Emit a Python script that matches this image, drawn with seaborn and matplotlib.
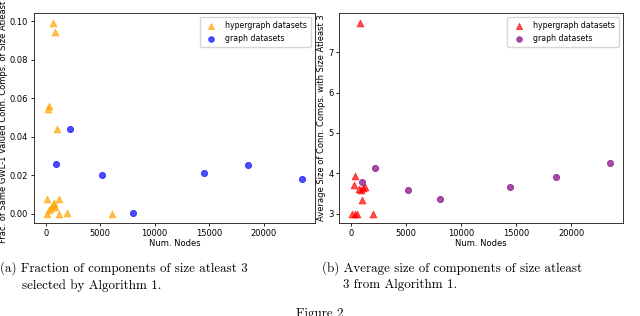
import numpy as np
import matplotlib
matplotlib.use("Agg")
import matplotlib.pyplot as plt
import seaborn as sns
import pandas as pd

# (a) fraction of same GWL-1 valued components of size >= 3
hyper_nodes_a = [640, 850, 334, 243, 1032, 91, 1244, 759, 637, 455, 850, 334, 91, 1184, 1973, 6100]
hyper_frac_a = [0.0993, 0.0945, 0.0558, 0.0546, 0.0438, 0.0075, 0.0075, 0.0055, 0.0045,
                0.0031, 0.0035, 0.0021, 0.0, 0.0, 0.0003, 0.0]
graph_nodes = [950, 2210, 5170, 8050, 14480, 18600, 23520]
graph_frac_a = [0.0256, 0.0442, 0.0199, 0.0002, 0.0211, 0.0250, 0.0179]

# (b) average size of components of size >= 3
hyper_nodes_b = [788, 333, 273, 697, 909, 1091, 1273, 970, 91, 394, 576, 1970]
hyper_size_b = [7.74, 3.93, 3.70, 3.60, 3.58, 3.64, 3.65, 3.33, 3.0, 3.0, 3.0, 3.0]
graph_size_b = [3.79, 4.14, 3.59, 3.37, 3.67, 3.90, 4.26]

df_ha = pd.DataFrame({"nodes": hyper_nodes_a, "val": hyper_frac_a})
df_ga = pd.DataFrame({"nodes": graph_nodes, "val": graph_frac_a})
df_hb = pd.DataFrame({"nodes": hyper_nodes_b, "val": hyper_size_b})
df_gb = pd.DataFrame({"nodes": graph_nodes, "val": graph_size_b})

fig = plt.figure(figsize=(6.4, 3.16), dpi=100)
ax1 = fig.add_axes([0.053, 0.294, 0.439, 0.665])
ax2 = fig.add_axes([0.530, 0.294, 0.443, 0.665])

fs = 6.0
sns.scatterplot(data=df_ha, x="nodes", y="val", marker="^", color="orange", alpha=0.7,
                s=24, edgecolor="orange", linewidth=0.6, label="hypergraph datasets", ax=ax1)
sns.scatterplot(data=df_ga, x="nodes", y="val", marker="o", color="blue", alpha=0.7,
                s=20, edgecolor="blue", linewidth=0.6, label="graph datasets", ax=ax1)
sns.scatterplot(data=df_hb, x="nodes", y="val", marker="^", color="red", alpha=0.7,
                s=24, edgecolor="red", linewidth=0.6, label="hypergraph datasets", ax=ax2)
sns.scatterplot(data=df_gb, x="nodes", y="val", marker="o", color="purple", alpha=0.7,
                s=20, edgecolor="purple", linewidth=0.6, label="graph datasets", ax=ax2)

ax1.set_ylabel("Frac. of Same GWL-1 Valued Conn. Comps. of Size Atleast 3", fontsize=fs, labelpad=1.5)
ax2.set_ylabel("Average Size of Conn. Comps. with Size Atleast 3", fontsize=fs, labelpad=1.5)
ax1.set_yticks([0.0, 0.02, 0.04, 0.06, 0.08, 0.10])
ax1.set_yticklabels(["0.00", "0.02", "0.04", "0.06", "0.08", "0.10"])
ax2.set_yticks([3, 4, 5, 6, 7])
for ax in (ax1, ax2):
    ax.set_xlabel("Num. Nodes", fontsize=fs, labelpad=1)
    ax.set_xticks([0, 5000, 10000, 15000, 20000])
    ax.tick_params(labelsize=fs, length=2.5, width=0.6, pad=1.5)
    for sp in ax.spines.values():
        sp.set_linewidth(0.7)
        sp.set_color("#333333")
    ax.legend(loc="upper right", fontsize=5.6, markerscale=0.9, handletextpad=0.8,
              borderpad=0.5, labelspacing=0.5, framealpha=0.8)

cap = dict(fontfamily="cmr10", fontsize=9.4, va="top", ha="left")
fig.text(0.0, 1 - 261 / 316, "(a) Fraction of components of size atleast 3", **cap)
fig.text(0.034, 1 - 279 / 316, "selected by Algorithm 1.", **cap)
fig.text(0.503, 1 - 261 / 316, "(b) Average size of components of size atleast", **cap)
fig.text(0.536, 1 - 279 / 316, "3 from Algorithm 1.", **cap)
fig.text(0.5, 1 - 308 / 316, "Figure 2", fontfamily="cmr10", fontsize=9.4, va="top", ha="center")

fig.savefig("out.png", dpi=100)
